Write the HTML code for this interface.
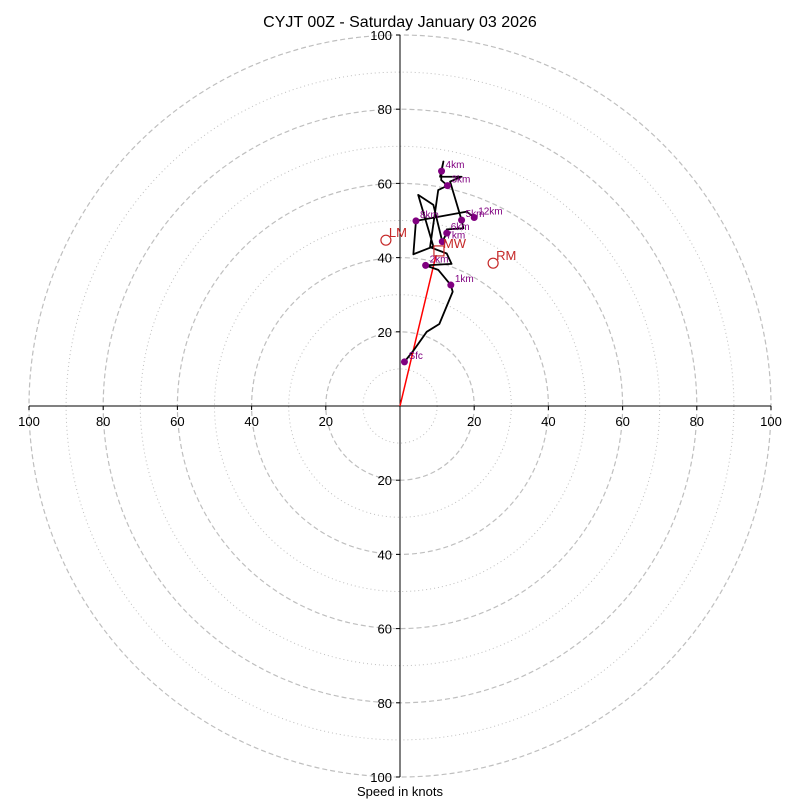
<!DOCTYPE html>
<html><head><meta charset="utf-8"><style>
html,body{margin:0;padding:0;background:#fff;}
svg{display:block;font-family:"Liberation Sans",sans-serif;}
</style></head><body>
<svg id="chart" width="800" height="800" viewBox="0 0 800 800">
<text x="400" y="27" text-anchor="middle" font-size="16">CYJT 00Z - Saturday January 03 2026</text>
<text x="400" y="796" text-anchor="middle" font-size="13">Speed in knots</text>
<g id="rings"></g>
<g id="axes"></g>
<g id="plot"></g>
</svg>
<script>
const ringSpeeds = [10,20,30,40,50,60,70,80,90,100];
const tickLabels = [20,40,60,80,100];
const heightLabels = ["Sfc","1km","2km","3km","4km","5km","6km","7km","8km","12km"];
const labelU = [1.2,13.7,6.9,12.8,11.2,16.6,12.6,11.4,4.3,20.0];
const labelV = [11.9,32.6,37.9,59.4,63.3,50.1,46.6,44.3,49.9,50.8];
const traceU = [1.2,3.6,7.2,10.6,14.2,13.7,10.3,6.9,13.9,12.6,8.1,10.3,12.8,11.1,11.2,11.7,10.8,16.6,13.5,16.6,17.1,12.6,12.6,11.4,9.0,4.9,9.0,3.6,4.3,18.0,20.0];
const traceV = [11.9,14.9,20.0,22.1,30.8,32.6,36.7,37.9,38.3,41.1,42.8,58.2,59.4,60.9,63.3,65.9,61.8,61.8,60.5,50.1,47.9,47.6,46.6,44.3,54.2,56.9,43.0,40.9,49.9,52.4,50.8];
const motionNames = ["LM","RM"];
const motionU = [-3.8,25.1];
const motionV = [44.7,38.5];
const meanWind = [10.5,41.8];

const NS="http://www.w3.org/2000/svg";
const cx=400, cy=406, R=371, maxS=100;
const sx=u=>cx+u/maxS*R;
const sy=v=>cy-v/maxS*R;
const sr=s=>s/maxS*R;
function mk(tag,attrs,parent){const e=document.createElementNS(NS,tag);for(const k in attrs)e.setAttribute(k,attrs[k]);parent.appendChild(e);return e;}
const rings=document.getElementById('rings'), axes=document.getElementById('axes'), plot=document.getElementById('plot');

ringSpeeds.forEach(s=>{
  const c=mk('circle',{cx:cx,cy:cy,r:sr(s),fill:'none',stroke:'#bfbfbf','stroke-width':s%20===0?1.2:1,'stroke-dasharray':s%20===0?'5,3':'1,3'},rings);
  
  
});
mk('line',{x1:sx(-100),y1:cy,x2:sx(100),y2:cy,stroke:'#000','stroke-width':1},axes);
mk('line',{x1:cx,y1:sy(100),x2:cx,y2:sy(-100),stroke:'#000','stroke-width':1},axes);
tickLabels.forEach(t=>{
  [-1,1].forEach(d=>{
    mk('line',{x1:sx(d*t),y1:cy,x2:sx(d*t),y2:cy+4,stroke:'#000'},axes);
    const tx=mk('text',{x:sx(d*t),y:cy+20,'text-anchor':'middle','font-size':13},axes);
    tx.textContent=t;
    
    
    mk('line',{x1:cx-4,y1:sy(d*t),x2:cx,y2:sy(d*t),stroke:'#000'},axes);
    const ty=mk('text',{x:cx-8,y:sy(d*t)+5,'text-anchor':'end','font-size':13},axes);
    ty.textContent=t;
    
    
  });
});
// mean wind line
const mwl=mk('line',{x1:sx(0),y1:sy(0),x2:sx(meanWind[0]-0.8),y2:sy(meanWind[1]-1.2),stroke:'#ff0000','stroke-width':1.5},plot);


// trace
const pts=traceU.map((u,i)=>sx(u)+','+sy(traceV[i])).join(' ');
const pl=mk('polyline',{points:pts,fill:'none',stroke:'#000','stroke-width':1.8,'stroke-linejoin':'round'},plot);


// points
heightLabels.forEach((h,i)=>{
  const c=mk('circle',{cx:sx(labelU[i]),cy:sy(labelV[i]),r:3.5,fill:'#800080'},plot);
  
  
  const t=mk('text',{x:sx(labelU[i])+4,y:sy(labelV[i])-3,'font-size':10,fill:'#800080'},plot);
  t.textContent=h;
  
  
});
// storm motions
motionNames.forEach((n,i)=>{
  const c=mk('circle',{cx:sx(motionU[i]),cy:sy(motionV[i]),r:5,fill:'none',stroke:'#c62828','stroke-width':1.2},plot);
  
  
  const t=mk('text',{x:sx(motionU[i])+3,y:sy(motionV[i])-3,'font-size':13,fill:'#c62828'},plot);
  t.textContent=n;
  
  
});
const box=mk('rect',{x:sx(meanWind[0])-5,y:sy(meanWind[1])-5,width:10,height:10,fill:'none',stroke:'#c62828','stroke-width':1.2},plot);


const mwt=mk('text',{x:sx(meanWind[0])+4,y:sy(meanWind[1])-3,'font-size':13,fill:'#c62828'},plot);
mwt.textContent='MW';


</script>
</body></html>
